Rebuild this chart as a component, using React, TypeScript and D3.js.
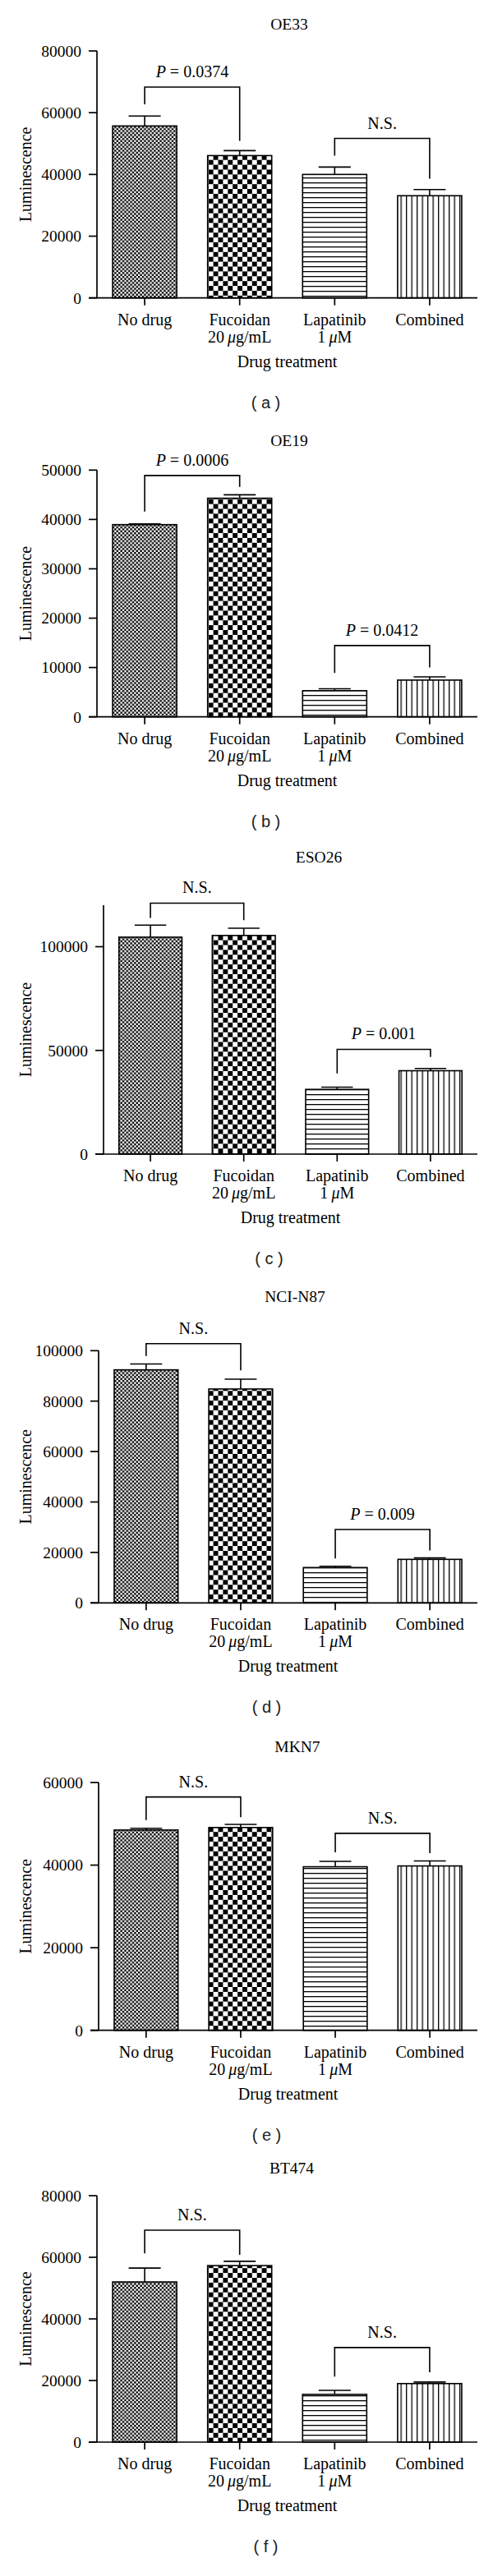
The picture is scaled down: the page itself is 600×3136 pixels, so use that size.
import * as d3 from 'd3';

// categories on the x axis (second line holds the dose)
const categories = ['No drug', 'Fucoidan', 'Lapatinib', 'Combined'];
const doseNumbers = ['', '20', '1', ''];
const doseUnits = ['', 'g/mL', 'M', ''];

const cellLines = ['OE33', 'OE19', 'ESO26', 'NCI-N87', 'MKN7', 'BT474'];
const panelLetters = ['a', 'b', 'c', 'd', 'e', 'f'];

// mean luminescence and top of the error bar (mean + SEM)
const oe33Mean = [55700, 46100, 40000, 33100];
const oe33Upper = [58900, 47700, 42400, 35100];
const oe19Mean = [38950, 44300, 5300, 7450];
const oe19Upper = [39100, 45000, 5700, 8100];
const eso26Mean = [104600, 105400, 31200, 40200];
const eso26Upper = [110400, 108900, 32300, 41300];
const n87Mean = [92400, 84800, 14000, 17250];
const n87Upper = [94700, 88700, 14500, 17800];
const mkn7Mean = [48500, 49100, 39600, 39800];
const mkn7Upper = [48900, 49850, 40900, 41000];
const bt474Mean = [52000, 57300, 15500, 19000];
const bt474Upper = [56500, 58700, 16800, 19500];

const yMaxima = [80000, 50000, 120000, 100000, 60000, 80000];
const yTickValues = [
    [0, 20000, 40000, 60000, 80000],
    [0, 10000, 20000, 30000, 40000, 50000],
    [0, 50000, 100000],
    [0, 20000, 40000, 60000, 80000, 100000],
    [0, 20000, 40000, 60000],
    [0, 20000, 40000, 60000, 80000],
];

// significance brackets: bar pair, label, bracket level and leg ends (data units)
type Bracket = { from: number; to: number; label: string; level: number; leftEnd: number; rightEnd: number };
const oe33Brackets: Bracket[] = [
    { from: 0, to: 1, label: 'P = 0.0374', level: 68300, leftEnd: 62700, rightEnd: 50900 },
    { from: 2, to: 3, label: 'N.S.', level: 51650, leftEnd: 46050, rightEnd: 38600 },
];
const oe19Brackets: Bracket[] = [
    { from: 0, to: 1, label: 'P = 0.0006', level: 48900, leftEnd: 41600, rightEnd: 46600 },
    { from: 2, to: 3, label: 'P = 0.0412', level: 14450, leftEnd: 8900, rightEnd: 10000 },
];
const eso26Brackets: Bracket[] = [
    { from: 0, to: 1, label: 'N.S.', level: 121000, leftEnd: 113900, rightEnd: 112800 },
    { from: 2, to: 3, label: 'P = 0.001', level: 50500, leftEnd: 38900, rightEnd: 46800 },
];
const n87Brackets: Bracket[] = [
    { from: 0, to: 1, label: 'N.S.', level: 102800, leftEnd: 97900, rightEnd: 92200 },
    { from: 2, to: 3, label: 'P = 0.009', level: 29100, leftEnd: 17600, rightEnd: 20750 },
];
const mkn7Brackets: Bracket[] = [
    { from: 0, to: 1, label: 'N.S.', level: 56500, leftEnd: 50900, rightEnd: 51600 },
    { from: 2, to: 3, label: 'N.S.', level: 47700, leftEnd: 43100, rightEnd: 42900 },
];
const bt474Brackets: Bracket[] = [
    { from: 0, to: 1, label: 'N.S.', level: 68800, leftEnd: 61300, rightEnd: 60800 },
    { from: 2, to: 3, label: 'N.S.', level: 30700, leftEnd: 21300, rightEnd: 22700 },
];

const means = [oe33Mean, oe19Mean, eso26Mean, n87Mean, mkn7Mean, bt474Mean];
const uppers = [oe33Upper, oe19Upper, eso26Upper, n87Upper, mkn7Upper, bt474Upper];
const brackets = [oe33Brackets, oe19Brackets, eso26Brackets, n87Brackets, mkn7Brackets, bt474Brackets];

// page geometry of each panel
const layout = [
    { titleX: 352, titleY: 36, top: 62, zero: 362.7, axisX: 118 },
    { titleX: 352, titleY: 542.7, top: 572.3, zero: 872.7, axisX: 118 },
    { titleX: 388, titleY: 1050, top: 1102, zero: 1405, axisX: 126 },
    { titleX: 359, titleY: 1585, top: 1644.3, zero: 1951.3, axisX: 120 },
    { titleX: 362, titleY: 2132.7, top: 2170, zero: 2471.7, axisX: 120 },
    { titleX: 355, titleY: 2646, top: 2673, zero: 2973, axisX: 118 },
];

const X_END = 581;
const SERIF = '"Liberation Serif", "Times New Roman", serif';
const SANS = '"Liberation Sans", Arial, sans-serif';
const patternIds = ['fineCheck', 'coarseCheck', 'hLines', 'vLines'];

function Patterns() {
    const f = 2.4;
    const c = 5.9;
    return (
        <defs>
            <pattern id="fineCheck" patternUnits="userSpaceOnUse" width={f * 2} height={f * 2}>
                <rect width={f * 2} height={f * 2} fill="#fff" />
                <rect width={f} height={f} fill="#000" />
                <rect x={f} y={f} width={f} height={f} fill="#000" />
            </pattern>
            <pattern id="coarseCheck" patternUnits="userSpaceOnUse" width={c * 2} height={c * 2}>
                <rect width={c * 2} height={c * 2} fill="#fff" />
                <rect width={c} height={c} fill="#000" />
                <rect x={c} y={c} width={c} height={c} fill="#000" />
            </pattern>
            <pattern id="hLines" patternUnits="userSpaceOnUse" width={10} height={6}>
                <rect width={10} height={6} fill="#fff" />
                <rect y={0} width={10} height={1.3} fill="#000" />
            </pattern>
            <pattern id="vLines" patternUnits="userSpaceOnUse" width={6.5} height={10}>
                <rect width={6.5} height={10} fill="#fff" />
                <rect x={0} width={1.3} height={10} fill="#000" />
            </pattern>
        </defs>
    );
}

function BracketLabel({ label, x, y }: { label: string; x: number; y: number }) {
    if (label.startsWith('P')) {
        return (
            <text x={x} y={y} textAnchor="middle" fontFamily={SERIF} fontSize={20}>
                <tspan fontStyle="italic">P</tspan>
                {label.slice(1)}
            </text>
        );
    }
    return (
        <text x={x} y={y} textAnchor="middle" fontFamily={SERIF} fontSize={20}>
            {label}
        </text>
    );
}

function Panel({ index }: { index: number }) {
    const L = layout[index];
    const y = d3.scaleLinear().domain([0, yMaxima[index]]).range([L.zero, L.top]);
    const x = d3.scaleBand<string>()
        .domain(categories)
        .range([L.axisX, X_END])
        .paddingInner(0.325)
        .paddingOuter(0.165);
    const bw = x.bandwidth();
    const cx = (i: number) => (x(categories[i]) ?? 0) + bw / 2;
    const mid = (L.axisX + X_END) / 2;

    return (
        <g>
            <text x={L.titleX} y={L.titleY} textAnchor="middle" fontFamily={SERIF} fontSize={19.5}>
                {cellLines[index]}
            </text>

            {/* bars */}
            {means[index].map((v, i) => (
                <rect
                    key={i}
                    x={x(categories[i])}
                    y={y(v)}
                    width={bw}
                    height={y(0) - y(v)}
                    fill={`url(#${patternIds[i]})`}
                    stroke="#000"
                    strokeWidth={1.6}
                />
            ))}

            {/* error bars */}
            {uppers[index].map((u, i) => (
                <g key={i} stroke="#000" strokeWidth={1.6}>
                    <line x1={cx(i)} x2={cx(i)} y1={y(means[index][i])} y2={y(u)} />
                    <line x1={cx(i) - bw / 4} x2={cx(i) + bw / 4} y1={y(u)} y2={y(u)} />
                </g>
            ))}

            {/* significance brackets */}
            {brackets[index].map((b, k) => {
                const x1 = cx(b.from);
                const x2 = cx(b.to);
                return (
                    <g key={k}>
                        <path
                            d={`M${x1},${y(b.leftEnd)}V${y(b.level)}H${x2}V${y(b.rightEnd)}`}
                            fill="none"
                            stroke="#000"
                            strokeWidth={1.6}
                        />
                        <BracketLabel label={b.label} x={(x1 + x2) / 2} y={y(b.level) - 12} />
                    </g>
                );
            })}

            {/* y axis */}
            <line x1={L.axisX} x2={L.axisX} y1={y(yMaxima[index])} y2={y(0)} stroke="#000" strokeWidth={1.7} />
            {yTickValues[index].map(t => (
                <g key={t}>
                    <line x1={L.axisX - 10} x2={L.axisX} y1={y(t)} y2={y(t)} stroke="#000" strokeWidth={1.7} />
                    <text
                        x={L.axisX - 19}
                        y={y(t)}
                        dy="0.35em"
                        textAnchor="end"
                        fontFamily={SERIF}
                        fontSize={19.5}
                    >
                        {t}
                    </text>
                </g>
            ))}
            <text
                transform={`translate(31,${(y(yMaxima[index]) + y(0)) / 2}) rotate(-90)`}
                dy="0.35em"
                textAnchor="middle"
                fontFamily={SERIF}
                fontSize={20}
            >
                Luminescence
            </text>

            {/* x axis */}
            <line x1={L.axisX - 10} x2={X_END} y1={y(0)} y2={y(0)} stroke="#000" strokeWidth={1.7} />
            {categories.map((c, i) => (
                <g key={c}>
                    <line x1={cx(i)} x2={cx(i)} y1={y(0)} y2={y(0) + 9} stroke="#000" strokeWidth={1.7} />
                    <text x={cx(i)} y={L.zero + 33} textAnchor="middle" fontFamily={SERIF} fontSize={20}>
                        {c}
                    </text>
                    {doseNumbers[i] && (
                        <text x={cx(i)} y={L.zero + 54} textAnchor="middle" fontFamily={SERIF} fontSize={20}>
                            {doseNumbers[i]}
                            {'\u2009'}
                            <tspan fontStyle="italic">μ</tspan>
                            {doseUnits[i]}
                        </text>
                    )}
                </g>
            ))}
            <text x={mid} y={L.zero + 84} textAnchor="middle" fontFamily={SERIF} fontSize={20}>
                Drug treatment
            </text>
            <text x={mid - 26} y={L.zero + 134} textAnchor="middle" fontFamily={SANS} fontSize={20} fill="#222">
                {`( ${panelLetters[index]} )`}
            </text>
        </g>
    );
}

export default function App() {
    return (
        <svg
            width={600}
            height={3136}
            style={{ position: 'absolute', left: 0, top: 0, background: '#fff' }}
        >
            <rect width={600} height={3136} fill="#fff" />
            <Patterns />
            {cellLines.map((_, i) => (
                <Panel key={i} index={i} />
            ))}
        </svg>
    );
}
